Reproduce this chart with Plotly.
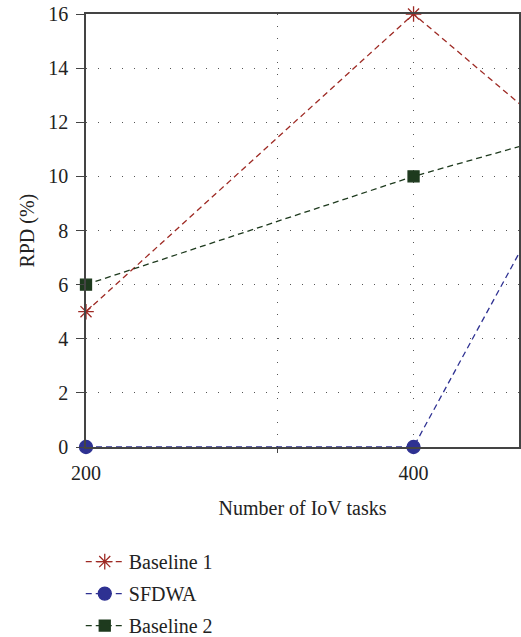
import math
import plotly.graph_objects as go

tasks = [200, 400, 600]
baseline1 = [5, 16, 10]
sfdwa = [0, 0, 13]
baseline2 = [6, 10, 12]

x_ticks = [200, 400]
y_ticks = [0, 2, 4, 6, 8, 10, 12, 14, 16]

FONT = "Liberation Serif"
TXT = "#222222"

fig = go.Figure()
series = [
    ("Baseline 1", baseline1, "#9E2A24", "asterisk-open", 13),
    ("SFDWA", sfdwa, "#2E3192", "circle", 13),
    ("Baseline 2", baseline2, "#1E3A1E", "square", 11),
]
for i, (name, vals, col, sym, sz) in enumerate(series):
    fig.add_trace(go.Scatter(
        x=tasks, y=vals, name=name, mode="lines+markers",
        line=dict(color=col, width=1.3, dash="6px,4px"),
        marker=dict(symbol=sym, size=sz, color=col, line=dict(color=col, width=1.3)),
        cliponaxis=False, legendgroup=f"g{i}",
    ))

fig.update_layout(
    width=521, height=637,
    margin=dict(l=86, r=2, t=14, b=190, autoexpand=False),
    paper_bgcolor="white", plot_bgcolor="white",
    font=dict(family=FONT, size=20, color=TXT),
    showlegend=True,
    legend=dict(xref="container", yref="container", x=0.155, y=0.149,
                xanchor="left", yanchor="top", itemwidth=38,
                font=dict(family=FONT, size=20, color=TXT),
                tracegroupgap=3, bgcolor="rgba(0,0,0,0)"),
    annotations=[dict(text="RPD (%)", xref="paper", yref="paper", x=-0.136, y=0.5,
                      xanchor="center", yanchor="middle", textangle=-90, showarrow=False,
                      font=dict(family=FONT, size=20, color=TXT))],
)
fig.update_xaxes(
    type="log", range=[math.log10(200) - 1e-6, math.log10(500)],
    tickvals=x_ticks, ticktext=[str(v) for v in x_ticks],
    ticks="", ticklabelstandoff=7,
    showline=True, mirror=True, linecolor="#444444", linewidth=1.5,
    showgrid=True, gridcolor="#555555", gridwidth=1, griddash="1px,11px",
    minor=dict(tickvals=[300], showgrid=True, gridcolor="#555555", griddash="1px,11px",
               ticks="outside", ticklen=4, tickcolor="#444444"),
    zeroline=False,
    title=dict(text="Number of IoV tasks", font=dict(family=FONT, size=20, color=TXT), standoff=18),
    tickfont=dict(family=FONT, size=20, color=TXT),
)
fig.update_yaxes(
    range=[0, 16], tickvals=y_ticks,
    ticks="outside", ticklen=8, tickcolor="#444444", ticklabelstandoff=4,
    showline=True, mirror=True, linecolor="#444444", linewidth=1.5,
    showgrid=True, gridcolor="#555555", gridwidth=1, griddash="1px,11px",
    zeroline=False,
    tickfont=dict(family=FONT, size=20, color=TXT),
)
fig.write_html("out.html")
